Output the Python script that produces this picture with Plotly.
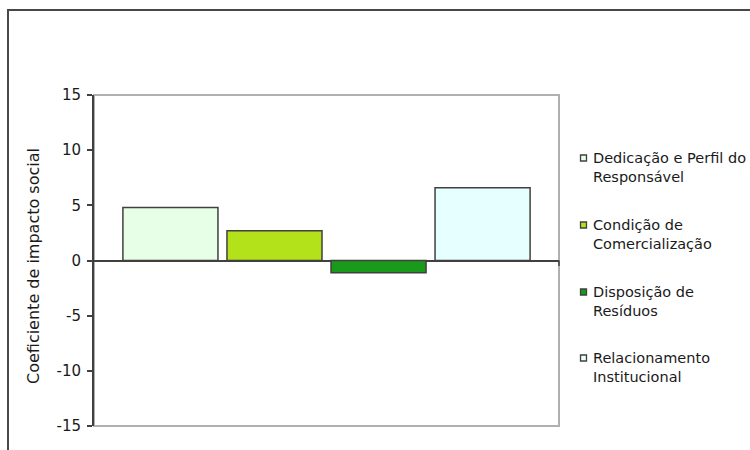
import plotly.graph_objects as go

# Indicadores de impacto social (uma categoria, quatro séries)
series_names = [
    "Dedicação e Perfil do<br>Responsável",
    "Condição de<br>Comercialização",
    "Disposição de<br>Resíduos",
    "Relacionamento<br>Institucional",
]
series_values = [4.8, 2.7, -1.1, 6.6]
series_colors = ["#E6FFE6", "#B3E21A", "#1A9A1A", "#E6FFFF"]
y_ticks = [-15, -10, -5, 0, 5, 10, 15]
y_tick_labels = ["-15", "-10", "-5", "0", "5", "10", "15"]
y_title = "Coeficiente de impacto social"

W, H = 750, 450
L, R, T, B = 94, 559, 95, 426  # plot area in pixels
FONT = "DejaVu Sans"
TXT = "#1a1a1a"


def px(x):
    return (x - L) / (R - L)


def py(y):
    return (B - y) / (B - T)


fig = go.Figure()
for name, val, col in zip(series_names, series_values, series_colors):
    fig.add_trace(go.Bar(
        x=[0], y=[val], name=name,
        marker=dict(color=col, line=dict(color="#404040", width=1.5)),
        showlegend=False, hoverinfo="y",
    ))

shapes = [
    # outer chart frame
    dict(type="rect", xref="paper", yref="paper",
         x0=px(8), x1=px(W + 20), y0=py(H + 20), y1=py(10),
         line=dict(color="#484848", width=2), layer="below"),
    # plot area border (top / right / bottom)
    dict(type="rect", xref="paper", yref="paper", x0=0, x1=1, y0=0, y1=1,
         line=dict(color="#B0B0B0", width=2), layer="below"),
    # category axis tick at the right end
    dict(type="line", xref="paper", yref="y", x0=1, x1=1, y0=0, y1=-0.5,
         line=dict(color="#404040", width=1.5)),
]

annotations = [
    dict(text=y_title, xref="paper", yref="paper", x=px(33), y=py(266),
         textangle=-90, showarrow=False, xanchor="center", yanchor="middle",
         font=dict(family=FONT, size=16, color=TXT)),
]

# legend drawn as squares and text lines
first_line_y = [158, 225, 292, 358]
line_step = 18.5
for name, col, y0 in zip(series_names, series_colors, first_line_y):
    shapes.append(dict(type="rect", xref="paper", yref="paper",
                       x0=px(580.5), x1=px(586.5), y0=py(y0 + 3), y1=py(y0 - 3),
                       fillcolor=col, line=dict(color="#404040", width=1.3)))
    for i, part in enumerate(name.split("<br>")):
        annotations.append(dict(
            text=part, xref="paper", yref="paper",
            x=px(591), y=py(y0 + i * line_step),
            xanchor="left", yanchor="middle", showarrow=False,
            font=dict(family=FONT, size=14.5, color=TXT)))

fig.update_layout(
    width=W, height=H,
    margin=dict(l=L, r=W - R, t=T, b=H - B, pad=0),
    paper_bgcolor="white", plot_bgcolor="white",
    barmode="group", bargap=0.105, bargroupgap=0.0865,
    shapes=shapes, annotations=annotations,
    font=dict(family=FONT, size=14, color=TXT),
    xaxis=dict(range=[-0.5, 0.5], showticklabels=False, showgrid=False,
               zeroline=False, showline=False, ticks=""),
    yaxis=dict(range=[-15, 15], tickvals=y_ticks, ticktext=y_tick_labels,
               showgrid=False,
               zeroline=True, zerolinecolor="#404040", zerolinewidth=2,
               showline=True, linecolor="#404040", linewidth=2,
               ticks="outside", ticklen=5, tickwidth=1.5, tickcolor="#404040",
               ticklabelstandoff=3,
               tickfont=dict(family=FONT, size=15, color=TXT)),
)

fig.write_html("out.html")
